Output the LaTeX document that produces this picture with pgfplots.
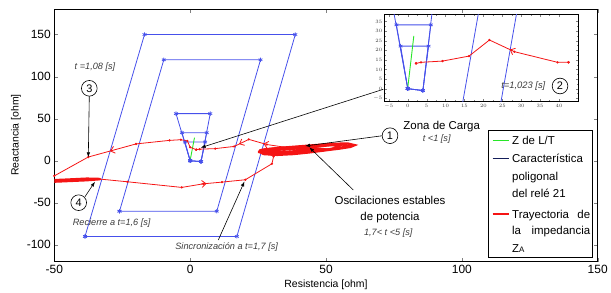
\documentclass[border=0pt]{standalone}
\usepackage{fontspec}
\setmainfont{Liberation Sans}
\usepackage{pgfplots}
\usepackage{pgfplotstable}
\pgfplotsset{compat=1.18}
\usetikzlibrary{arrows.meta}
\definecolor{pblue}{RGB}{70,80,235}
\definecolor{pred}{RGB}{245,20,20}
\definecolor{pgreen}{RGB}{40,230,40}
\definecolor{pnavy}{RGB}{20,30,90}
\definecolor{annot}{RGB}{60,60,60}

\pgfplotstableread{
x y
-38.7 -90
17.2 -90
38.7 150
-16.8 150
-38.7 -90
}\zoneiii
\pgfplotstableread{
x y
-26 -60
9.8 -60
25.9 120
-9.7 120
-26 -60
}\zoneii
\pgfplotstableread{
x y
0 0
4 -1
7.4 56
-5.2 56
0 0
}\zoneic
\pgfplotstableread{
x y
0 0
4 -1
6.1 33.3
-3.0 33.3
0 0
}\zoneib
\pgfplotstableread{
x y
0 0
4 -1
5.5 22.2
-1.9 22.2
0 0
}\zoneia
\pgfplotstableread{
x y
0 0.5
1.6 27.5
}\linea
\pgfplotstableread{
x y
42.5 13.75
39.6 13.75
28.2 19.3
21.6 25.4
16.2 17.0
9.2 14.4
3.5 13.75
2.2 13.2
}\pathi
\pgfplotstableread{
x y
2.2 13.2
0 16
-1 23.5
-3.4 25
-7.6 24.2
-19.9 20
-37.5 4.4
-50 -18
-56 -28
}\pathii
\pgfplotstableread{
x y
-33.2 -21.8
-23.1 -25
-3.1 -31.7
4.9 -27.4
11.7 -25.4
20.3 -22.6
30.1 -3.6
30.7 5.1
28 9.5
}\pathiii
\pgfplotstableread{
x y
-52 -23.5
-45 -22.5
-38 -21.4
-33.2 -21.8
-38 -23
-45 -24
-52 -25
}\recloser
\pgfplotstableread{
x y
25.5 11
27 8
32 7
38 8
44 10
50 12.5
55 14.5
59 16.5
60.5 18.5
58 20.5
52 20
46 18.5
40 17
34 15.5
29 14
26 12.5
25.5 11
}\loopi
\pgfplotstableread{
x y
26 12
29 9
35 8.5
41 10
47 12
52 14
56 16
58 18
56 19.5
50 18.5
44 17
38 16
32 15
28 13.5
26 12
}\loopii
\pgfplotstableread{
x y
25 10.5
28 8.5
33 8.5
39 9.5
45 11
50 13
54 15.5
55 17.5
52 18.5
47 17
41 15.5
35 14
30 13
27 12
25 10.5
}\loopiii
\pgfplotstableread{
x y
25.5 12
30 10
36 10.5
42 12
48 14
44 15.5
38 14.5
32 13.5
27 13
25.5 12
}\loopiv

\pgfplotsset{
  polyst/.style={pblue, line width=0.8pt, mark=asterisk, mark size=2.2pt, mark options={solid,line width=0.7pt}},
  trajst/.style={pred, line width=0.8pt, mark=*, mark size=0.7pt},
  barb/.style={pred, line width=0.8pt, -{Straight Barb[length=4bp,width=7bp]}},
}

\begin{document}
\begin{tikzpicture}
\useasboundingbox (-54.3bp,-31.3bp) rectangle (556.7bp,261.7bp);
\begin{axis}[
  at={(0,0)}, anchor=south west,
  scale only axis, width=543.4bp, height=252.4bp,
  xmin=-50, xmax=150, ymin=-120, ymax=180,
  xtick={-50,0,50,100,150}, ytick={-100,-50,0,50,100,150},
  tick align=inside, major tick length=4bp,
  /pgf/number format/assume math mode=true,
  tick label style={font=\fontsize{12}{12}\selectfont},
  xlabel={Resistencia [ohm]}, ylabel={Reactancia [ohm]},
  label style={font=\fontsize{10.5}{12}\selectfont},
  xlabel style={at={(axis description cs:0.5,-0.0923)}, anchor=center},
  ylabel style={at={(axis description cs:-0.0705,0.502)}, anchor=center, rotate=0},
  axis line style={line width=0.8pt},
]
\addplot[polyst] table {\zoneiii};
\addplot[polyst] table {\zoneii};
\addplot[polyst] table {\zoneic};
\addplot[polyst] table {\zoneib};
\addplot[polyst] table {\zoneia};
\addplot[pgreen, line width=0.9pt] table {\linea};
\addplot[pred, line width=2.4pt] table {\loopi};
\addplot[pred, line width=2.2pt] table {\loopii};
\addplot[pred, line width=2.2pt] table {\loopiii};
\addplot[pred, line width=2.6pt] table {\loopiv};
\addplot[pred, line width=2.6pt] table {\recloser};
\addplot[trajst] table {\pathi};
\addplot[trajst] table {\pathii};
\addplot[trajst] table {\pathiii};
\addplot[barb] coordinates {(27.6,19.85) (27,20.4)};
\addplot[barb] coordinates {(18.6,20.7) (18,19.8)};
\addplot[barb] coordinates {(-28.5,12.4) (-29.5,11.5)};
\addplot[barb] coordinates {(4,-27.7) (6,-27.08)};
\end{axis}

% annotation arrows and labels
\draw[black, line width=0.6pt, -{Latex[length=5bp,width=3.5bp]}] (35bp,165.7bp) -- (34bp,104.4bp);
\node[draw, circle, minimum size=15.7bp, inner sep=0pt, line width=0.6pt, font=\fontsize{11}{11}\selectfont, fill=white] at (35bp,173.4bp) {3};
\node[font=\fontsize{9.2}{10}\selectfont\itshape, text=annot] at (40.7bp,195bp) {t =1,08 [s]};

\draw[black, line width=0.6pt, -{Latex[length=5bp,width=3.5bp]}] (30.7bp,65bp) -- (40.7bp,80bp);
\node[draw, circle, minimum size=15.7bp, inner sep=0pt, line width=0.6pt, font=\fontsize{11}{11}\selectfont, fill=white] at (24.4bp,59bp) {4};
\node[font=\fontsize{9.2}{10}\selectfont\itshape, text=annot] at (57.4bp,38.4bp) {Recierre a t=1,6 [s]};

\draw[black, line width=0.6pt, -{Latex[length=5bp,width=3.5bp]}] (164bp,21.7bp) -- (190.2bp,80.3bp);
\node[font=\fontsize{9.2}{10}\selectfont\itshape, text=annot] at (172.4bp,14.4bp) {Sincronización a t=1,7 [s]};

\draw[black, line width=0.6pt, -{Latex[length=5bp,width=3.5bp]}] (329bp,172.4bp) -- (146.4bp,114bp);

\draw[black, line width=0.6pt, -{Latex[length=5bp,width=3.5bp]}] (328.4bp,126bp) -- (250.7bp,115.7bp);
\node[draw, circle, minimum size=15.7bp, inner sep=0pt, line width=0.6pt, font=\fontsize{11}{11}\selectfont, fill=white] at (335.7bp,126bp) {1};
\node[font=\fontsize{11.5}{12}\selectfont] at (387.4bp,135bp) {Zona de Carga};
\node[font=\fontsize{9.2}{10}\selectfont\itshape, text=annot] at (382.4bp,122.7bp) {t <1 [s]};

\draw[black, line width=0.6pt, -{Latex[length=5bp,width=3.5bp]}] (299bp,71.7bp) -- (255bp,114.4bp);
\node[font=\fontsize{11.5}{12}\selectfont] at (335.7bp,61.7bp) {Oscilaciones estables};
\node[font=\fontsize{11.5}{12}\selectfont] at (335.7bp,44.4bp) {de potencia};
\node[font=\fontsize{9.2}{10}\selectfont\itshape, text=annot] at (334bp,28.4bp) {1,7< t <5 [s]};

% legend
\draw[black, line width=0.6pt, fill=white] (433.7bp,4.7bp) rectangle (537.7bp,131.7bp);
\draw[pgreen, line width=1.3pt] (438.4bp,121bp) -- (455bp,121bp);
\draw[pnavy, line width=1.3pt] (438.4bp,103.4bp) -- (455bp,103.4bp);
\draw[pred, line width=1.3pt] (438.4bp,47.7bp) -- (455bp,47.7bp);
\begin{scope}[every node/.style={anchor=base west, inner sep=0pt, font=\fontsize{11.5}{12}\selectfont}]
\node at (457.7bp,116.9bp) {Z de L/T};
\node at (457.7bp,99.3bp) {Característica};
\node at (457.7bp,81.6bp) {poligonal};
\node at (457.7bp,64.6bp) {del relé 21};
\node at (457.7bp,43.6bp) {\hbox to 78bp{Trayectoria\hfill de}};
\node at (457.7bp,27.6bp) {\hbox to 78bp{la\hfill impedancia}};
\node at (457.7bp,9.6bp) {Z{\fontsize{8}{8}\selectfont A}};
\end{scope}

% inset
\begin{axis}[
  at={(330.4bp,160bp)}, anchor=south west,
  scale only axis, width=193.6bp, height=87bp,
  xmin=-6.1, xmax=45.1, ymin=-6.8, ymax=38.6,
  xtick={-5,0,...,40}, ytick={-5,0,...,35},
  minor x tick num=1, minor y tick num=1,
  tick align=inside, major tick length=2.5bp, minor tick length=1.5bp,
  tick label style={font=\fontsize{4}{4}\selectfont, text=annot},
  xticklabel style={yshift=1bp}, yticklabel style={xshift=1bp},
  axis background/.style={fill=white},
  axis line style={line width=0.8pt},
]
\addplot[polyst] table {\zoneiii};
\addplot[polyst] table {\zoneii};
\addplot[polyst] table {\zoneic};
\addplot[polyst] table {\zoneib};
\addplot[polyst] table {\zoneia};
\addplot[pgreen, line width=0.9pt] table {\linea};
\addplot[trajst] table {\pathi};
\addplot[pred, mark=*, mark size=1.1pt, only marks] coordinates {(2.2,13.2) (42.5,13.75)};
\addplot[barb] coordinates {(27.6,19.85) (27,20.4)};
\end{axis}
\node[draw, circle, minimum size=15.7bp, inner sep=0pt, line width=0.6pt, font=\fontsize{11}{11}\selectfont] at (505.7bp,175.7bp) {2};
\node[font=\fontsize{9.4}{10}\selectfont\itshape, text=annot] at (469bp,175.7bp) {t=1,023 [s]};
\end{tikzpicture}
\end{document}
